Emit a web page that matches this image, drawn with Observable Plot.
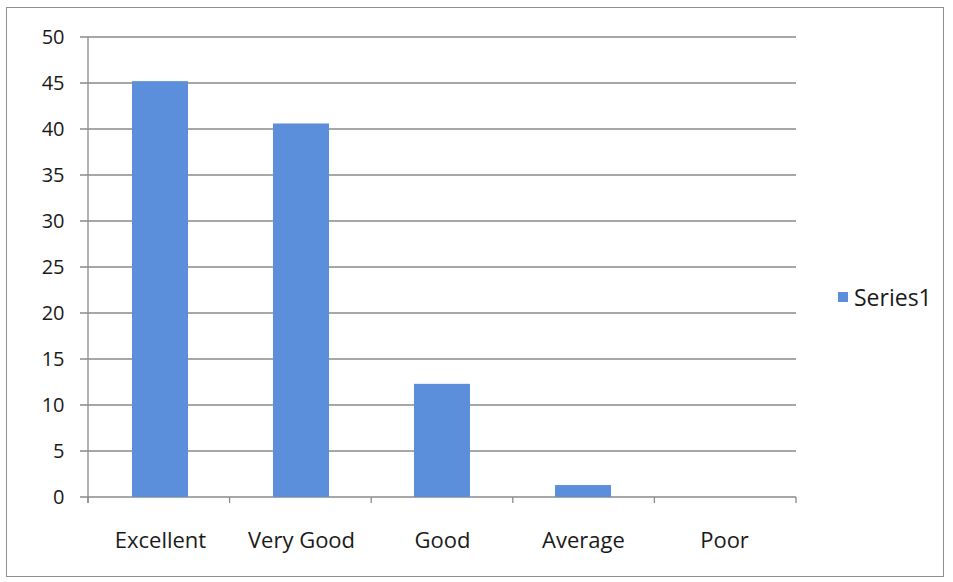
<!DOCTYPE html>
<html><head><meta charset="utf-8">
<script src="https://cdn.jsdelivr.net/npm/d3@7"></script>
<script src="https://cdn.jsdelivr.net/npm/@observablehq/plot@0.6"></script>
<style>
html,body{margin:0;padding:0;background:#fff;}
#wrap{position:relative;width:953px;height:582px;font-family:"Open Sans",sans-serif;}
#border{position:absolute;left:6px;top:7px;width:938px;height:570px;border:1.5px solid #8f8f8f;box-sizing:border-box;pointer-events:none;}
#legend{position:absolute;left:838px;top:281px;font-size:23px;color:#1a1a1a;display:flex;align-items:center;gap:6px;}
#legend span.sw{display:inline-block;width:10px;height:10px;background:#5b8fdc;}
</style></head>
<body><div id="wrap"><div id="chart"></div><div id="border"></div>
<div id="legend"><span class="sw"></span><span>Series1</span></div></div>
<script>
const categories = ["Excellent", "Very Good", "Good", "Average", "Poor"];
const values = [45.2, 40.6, 12.3, 1.3, 0];
const yTicks = [0, 5, 10, 15, 20, 25, 30, 35, 40, 45, 50];
const seriesName = "Series1";

const data = categories.map((c, i) => ({category: c, value: values[i]}));

const grid = "#8a8a8a";
const axisLines = (index, scales, values, dims) => {
  const g = d3.create("svg:g").attr("stroke", grid).attr("stroke-width", 1.3);
  const left = dims.marginLeft, right = dims.width - dims.marginRight;
  const step = (right - left) / categories.length;
  const y0 = scales.y(0);
  // vertical value axis line
  g.append("line").attr("x1", left).attr("x2", left)
    .attr("y1", scales.y(yTicks[yTicks.length - 1])).attr("y2", y0 + 6);
  // category boundary ticks
  for (let i = 0; i <= categories.length; i++) {
    const b = left + i * step;
    g.append("line").attr("x1", b).attr("x2", b).attr("y1", y0).attr("y2", y0 + 6);
  }
  return g.node();
};

const plot = Plot.plot({
  width: 953,
  height: 582,
  marginLeft: 88,
  marginRight: 157,
  marginTop: 37,
  marginBottom: 85,
  style: {fontFamily: "Open Sans, sans-serif", fontSize: "20px", color: "#1a1a1a", background: "transparent"},
  x: {domain: categories, paddingInner: 0.6, paddingOuter: 0.3, axis: null},
  y: {domain: [0, 50], axis: null},
  marks: [
    Plot.ruleY(yTicks, {
      render: (index, scales, values, dims) => {
        const g = d3.create("svg:g").attr("stroke", grid).attr("stroke-width", 1.3);
        for (const t of yTicks) {
          const yy = scales.y(t);
          g.append("line").attr("x1", dims.marginLeft - 8).attr("x2", dims.width - dims.marginRight).attr("y1", yy).attr("y2", yy);
        }
        return g.node();
      }}),
    Plot.ruleY([0], {render: axisLines}),
    Plot.barY(data, {x: "category", y: "value", fill: "#5b8fdc", title: d => `${seriesName}: ${d.value}`}),
    Plot.text(yTicks, {y: d => d, text: d => String(d), frameAnchor: "left", textAnchor: "end", dx: -24, fontSize: 20, fill: "#1a1a1a"}),
    Plot.text(data, {x: "category", y: 0, text: "category", dy: 43, fontSize: 22, fill: "#1a1a1a"})
  ]
});
document.getElementById("chart").appendChild(plot);
</script></body></html>
